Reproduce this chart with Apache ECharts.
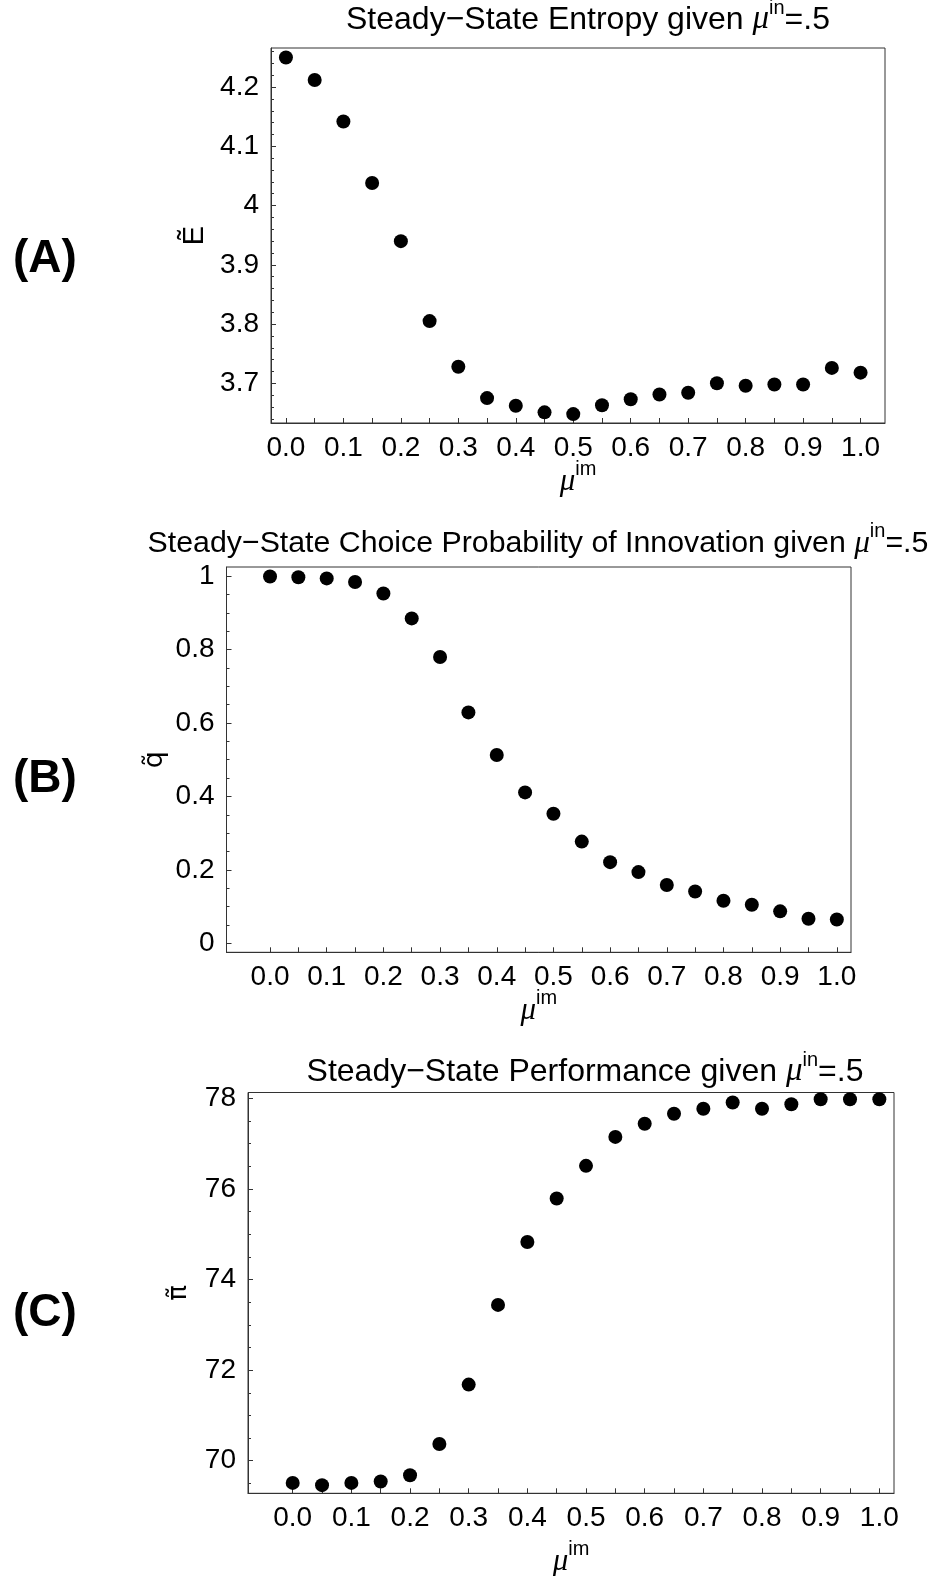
<!DOCTYPE html>
<html><head><meta charset="utf-8">
<script src="https://cdn.jsdelivr.net/npm/echarts@6/dist/echarts.min.js"></script>
<style>html,body{margin:0;padding:0;background:#fff}#c{width:932px;height:1576px}</style>
</head><body><div id="c"></div>
<script>
// ---- data ----
const muIm = [0.00,0.05,0.10,0.15,0.20,0.25,0.30,0.35,0.40,0.45,0.50,0.55,0.60,0.65,0.70,0.75,0.80,0.85,0.90,0.95,1.00];
const entropy = [4.250,4.212,4.142,4.038,3.940,3.805,3.728,3.675,3.662,3.651,3.648,3.663,3.673,3.681,3.684,3.700,3.696,3.698,3.698,3.726,3.718];
const innovationProb = [0.999,0.997,0.994,0.984,0.953,0.885,0.780,0.629,0.513,0.411,0.353,0.277,0.221,0.194,0.159,0.141,0.116,0.105,0.087,0.067,0.065];
const performance = [69.51,69.46,69.51,69.54,69.68,70.37,71.68,73.44,74.83,75.79,76.51,77.15,77.44,77.66,77.77,77.91,77.77,77.87,77.98,77.98,77.98];

// ---- tick labels ----
const xLabels = [0.0,0.1,0.2,0.3,0.4,0.5,0.6,0.7,0.8,0.9,1.0];
const yLabelsA = [3.7,3.8,3.9,4,4.1,4.2];
const yLabelsB = [0,0.2,0.4,0.6,0.8,1];
const yLabelsC = [70,72,74,76,78];
const panelLabels = ['(A)','(B)','(C)'];
const titles = ['Steady\u2212State Entropy given ', 'Steady\u2212State Choice Probability of Innovation given ', 'Steady\u2212State Performance given '];
const yNames = ['\u1EBC', 'q\u0303', '\u03C0\u0303'];

function minors(lo, hi, step, majors) {
  const out = [];
  const n = Math.round((hi - lo) / step);
  for (let i = 0; i <= n; i++) {
    const v = +(lo + i * step).toFixed(4);
    if (!majors.some(m => Math.abs(m - v) < 1e-6)) out.push(v);
  }
  return out;
}
const minorA = minors(3.64, 4.26, 0.02, yLabelsA);
const minorB = minors(0, 1, 0.05, yLabelsB);
const minorC = minors(69.5, 78, 0.5, yLabelsC);

const FONT = 'Liberation Sans';
const AX = '#333';
function richFor(size) {
  return {
    mu: { fontFamily: 'Liberation Serif', fontStyle: 'italic', fontSize: size + 1, color: '#000', lineHeight: 38, verticalAlign: 'bottom' },
    sup: { fontFamily: FONT, fontSize: 20, color: '#000', lineHeight: 16, verticalAlign: 'top' },
    t: { fontFamily: FONT, fontSize: size, color: '#000', lineHeight: 38, verticalAlign: 'bottom' }
  };
}

const panels = [
  { grid: { left: 271, top: 48, width: 614, height: 375 }, xmin: -0.026, xmax: 1.0425, ymin: 3.633, ymax: 4.266, yl: yLabelsA, ym: minorA, data: entropy,
    yFont: 'Liberation Sans', ySize: 29, nameGap: 62, xGap: 36, tx: 588, ty: 17, tsize: 32, py: 259 },
  { grid: { left: 226.5, top: 567, width: 624.5, height: 385.3 }, xmin: -0.0768, xmax: 1.025, ymin: -0.0245, ymax: 1.025, yl: yLabelsB, ym: minorB, data: innovationProb,
    yFont: 'DejaVu Sans', ySize: 27, nameGap: 58, xGap: 36, tx: 538, ty: 540, tsize: 30.3, py: 779 },
  { grid: { left: 248, top: 1092.5, width: 646, height: 400.8 }, xmin: -0.0762, xmax: 1.025, ymin: 69.28, ymax: 78.13, yl: yLabelsC, ym: minorC, data: performance,
    yFont: 'DejaVu Sans', ySize: 26, nameGap: 56, xGap: 46, tx: 585, ty: 1069, tsize: 32, py: 1313 }
];

const grid = [], xAxis = [], yAxis = [], series = [], graphic = [];
panels.forEach((p, i) => {
  grid.push(Object.assign({ show: true, borderColor: AX, borderWidth: 1, containLabel: false, outerBoundsMode: 'none' }, p.grid));
  xAxis.push({
    type: 'value', gridIndex: i, position: 'bottom', min: p.xmin, max: p.xmax,
    axisLine: { show: true, onZero: false, lineStyle: { color: AX, width: 1 } },
    axisTick: { show: true, inside: true, length: 5, customValues: muIm, lineStyle: { color: AX } },
    axisLabel: { show: true, customValues: xLabels, formatter: v => v.toFixed(1), fontFamily: FONT, fontSize: 28, color: '#000', margin: 11 },
    splitLine: { show: false },
    name: '{mu|\u03BC}{sup|im}', nameLocation: 'middle', nameGap: p.xGap, nameMoveOverlap: false,
    nameTextStyle: { rich: richFor(30) }
  });
  yAxis.push({
    type: 'value', gridIndex: i, position: 'left', min: p.ymin, max: p.ymax,
    axisLine: { show: true, onZero: false, lineStyle: { color: AX, width: 1 } },
    axisTick: { show: true, inside: true, length: 5, customValues: p.yl, lineStyle: { color: AX } },
    axisLabel: { show: true, customValues: p.yl, formatter: v => String(+v.toFixed(2)), fontFamily: FONT, fontSize: 28, color: '#000', margin: 12 },
    splitLine: { show: false },
    name: yNames[i], nameLocation: 'middle', nameRotate: 90, nameGap: p.nameGap, nameMoveOverlap: false,
    nameTextStyle: { fontFamily: p.yFont, fontSize: p.ySize, color: '#000' }
  });
  yAxis.push({
    type: 'value', gridIndex: i, position: 'left', offset: 0, min: p.ymin, max: p.ymax,
    axisLine: { show: false, onZero: false },
    axisTick: { show: true, inside: true, length: 3, customValues: p.ym, lineStyle: { color: AX } },
    axisLabel: { show: false },
    splitLine: { show: false }
  });
  series.push({
    type: 'scatter', xAxisIndex: i, yAxisIndex: 2 * i,
    data: muIm.map((x, k) => [x, p.data[k]]),
    symbol: 'circle', symbolSize: 14, itemStyle: { color: '#000', opacity: 1 }, silent: true
  });
  graphic.push({
    type: 'text', x: p.tx, y: p.ty,
    style: { text: '{t|' + titles[i] + '}{mu|\u03BC}{sup|in}{t|=.5}', rich: richFor(p.tsize), align: 'center', verticalAlign: 'middle' }
  });
  graphic.push({
    type: 'text', x: 13, y: p.py,
    style: { text: panelLabels[i], font: 'bold 46px "Liberation Sans"', fill: '#000', align: 'left', verticalAlign: 'middle' }
  });
});

const chart = echarts.init(document.getElementById('c'), null, { renderer: 'canvas' });
chart.setOption({ animation: false, backgroundColor: '#fff', grid, xAxis, yAxis, series, graphic });
</script>
</body></html>
